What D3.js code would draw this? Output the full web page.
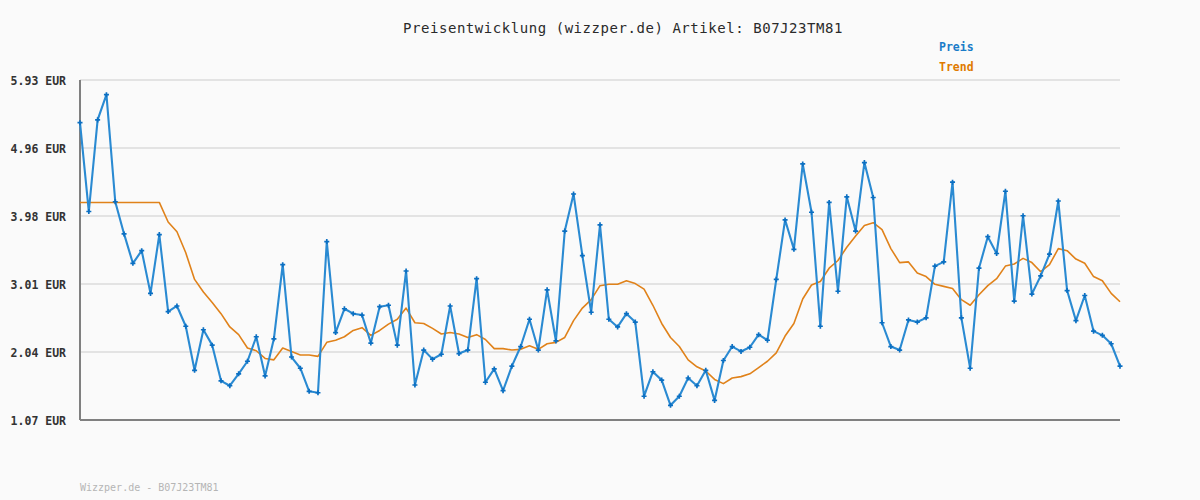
<!DOCTYPE html>
<html><head><meta charset="utf-8">
<script src="https://cdn.jsdelivr.net/npm/d3@7"></script>
<style>
html,body{margin:0;padding:0;background:#fafafa;}
svg{display:block;}
</style></head><body>
<svg id="chart" width="1200" height="500"></svg>
<script>
const title = "Preisentwicklung (wizzper.de) Artikel: B07J23TM81";
const footer = "Wizzper.de - B07J23TM81";
const seriesNames = ["Preis", "Trend"];
const yTickLabels = ["1.07 EUR", "2.04 EUR", "3.01 EUR", "3.98 EUR", "4.96 EUR", "5.93 EUR"];
const yMin = 1.07, yMax = 5.93;
const preis = [5.32,4.05,5.36,5.72,4.19,3.73,3.31,3.49,2.88,3.72,
2.62,2.70,2.41,1.78,2.36,2.14,1.63,1.56,1.73,1.91,
2.26,1.70,2.23,3.29,1.97,1.81,1.48,1.46,3.62,2.32,
2.66,2.59,2.57,2.17,2.69,2.71,2.14,3.20,1.57,2.07,
1.94,2.01,2.70,2.02,2.07,3.09,1.61,1.80,1.49,1.84,
2.12,2.51,2.07,2.93,2.20,3.77,4.30,3.42,2.61,3.86,
2.51,2.40,2.59,2.47,1.41,1.76,1.64,1.28,1.41,1.67,
1.56,1.78,1.35,1.92,2.12,2.05,2.11,2.29,2.21,3.08,
3.93,3.51,4.73,4.04,2.41,4.18,2.91,4.26,3.77,4.75,
4.25,2.46,2.12,2.07,2.50,2.47,2.53,3.27,3.33,4.47,
2.53,1.81,3.24,3.69,3.45,4.34,2.77,3.99,2.87,3.13,
3.44,4.20,2.92,2.49,2.85,2.34,2.28,2.16,1.84];
const trend = [4.18,4.18,4.18,4.18,4.18,4.18,4.18,4.18,4.18,4.18,
3.90,3.76,3.46,3.08,2.90,2.75,2.59,2.40,2.29,2.10,
2.06,1.95,1.93,2.10,2.05,2.00,2.00,1.98,2.18,2.21,
2.26,2.35,2.39,2.28,2.35,2.44,2.51,2.67,2.46,2.45,
2.38,2.30,2.32,2.30,2.25,2.29,2.22,2.09,2.09,2.07,
2.08,2.13,2.08,2.16,2.18,2.25,2.49,2.67,2.79,2.99,
3.01,3.01,3.06,3.02,2.94,2.71,2.45,2.25,2.12,1.93,
1.83,1.77,1.65,1.59,1.67,1.69,1.73,1.82,1.91,2.03,
2.27,2.45,2.80,3.00,3.05,3.24,3.35,3.54,3.70,3.85,
3.89,3.79,3.52,3.32,3.33,3.17,3.12,3.01,2.98,2.95,
2.79,2.71,2.86,2.99,3.09,3.27,3.30,3.38,3.32,3.19,
3.29,3.52,3.49,3.37,3.31,3.12,3.06,2.88,2.76];

const svg = d3.select("#chart");
const pL = 80, pR = 1120, pT = 80, pB = 420;
const mono = "'DejaVu Sans Mono', 'Liberation Mono', monospace";

const x = d3.scaleLinear().domain([0, preis.length - 1]).range([pL, pR]);
const y = d3.scaleLinear().domain([yMin, yMax]).range([pB, pT]);
const tickPos = d3.range(yTickLabels.length).map(i => yMin + i * (yMax - yMin) / (yTickLabels.length - 1));

svg.append("rect").attr("width",1200).attr("height",500).attr("fill","#fafafa");

// grid lines
svg.append("g").selectAll("line").data(tickPos.slice(1)).join("line")
  .attr("x1", pL).attr("x2", pR)
  .attr("y1", d => y(d)).attr("y2", d => y(d))
  .attr("stroke", "#e3e3e3").attr("stroke-width", 2);

// y labels via axis
const yAxis = d3.axisLeft(y).tickValues(tickPos).tickSize(0).tickPadding(0)
  .tickFormat((d,i) => yTickLabels[i]);
const gy = svg.append("g").attr("transform", `translate(66,0)`).call(yAxis);
gy.select(".domain").remove();
gy.selectAll("text").attr("font-family", mono).attr("font-size", 11.5).attr("font-weight","bold")
  .attr("fill", "#333").attr("dy","0.35em");

// axes lines
svg.append("line").attr("x1", pL).attr("x2", pL).attr("y1", pT).attr("y2", pB)
  .attr("stroke", "#808080").attr("stroke-width", 2);
svg.append("line").attr("x1", pL).attr("x2", pR).attr("y1", pB).attr("y2", pB)
  .attr("stroke", "#808080").attr("stroke-width", 2);

const line = d3.line().x((d,i) => x(i)).y(d => y(d));

svg.append("path").datum(trend).attr("d", line).attr("fill","none")
  .attr("stroke", "#e0821a").attr("stroke-width", 1.6).attr("stroke-linejoin","round");

svg.append("path").datum(preis).attr("d", line).attr("fill","none")
  .attr("stroke", "#2a8ad2").attr("stroke-width", 2.1).attr("stroke-linejoin","round");

// plus markers
const sym = d3.symbol().type(d3.symbolCross).size(14);
svg.append("g").selectAll("path").data(preis).join("path")
  .attr("d", sym)
  .attr("transform", (d,i) => `translate(${x(i)},${y(d)})`)
  .attr("fill", "#0b6fc2");

// title
svg.append("text").attr("x", 623).attr("y", 33).attr("text-anchor","middle")
  .attr("font-family", mono).attr("font-size", 14).attr("letter-spacing", 0.55)
  .attr("fill", "#2a2a2a").text(title);

// legend
const legendColors = ["#1a7cc8", "#e07a00"];
svg.append("g").selectAll("text").data(seriesNames).join("text")
  .attr("x", 939).attr("y", (d,i) => 51 + i*20)
  .attr("font-family", mono).attr("font-size", 11.5).attr("font-weight","bold")
  .attr("fill", (d,i) => legendColors[i]).text(d => d);

// footer
svg.append("text").attr("x", 80).attr("y", 491)
  .attr("font-family", mono).attr("font-size", 10)
  .attr("fill", "#b5b5b5").text(footer);
</script>
</body></html>
